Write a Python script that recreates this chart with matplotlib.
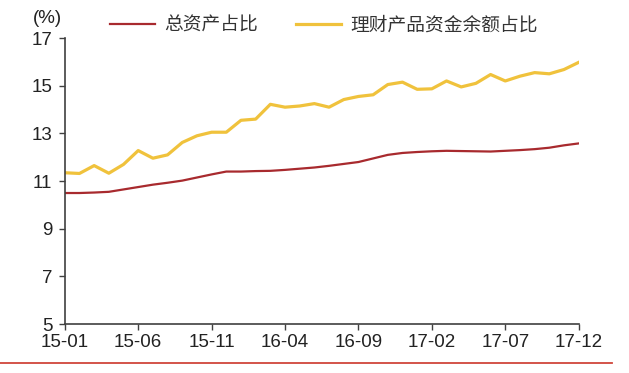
import matplotlib
matplotlib.use("Agg")
import matplotlib.pyplot as plt
from matplotlib.lines import Line2D

plt.rcParams["font.family"] = ["Liberation Sans", "Noto Sans CJK SC", "DejaVu Sans"]

# monthly data, 2015-01 .. 2017-12
months = [f"{y:02d}-{m:02d}" for y in (15, 16, 17) for m in range(1, 13)]

total_assets = [10.50, 10.50, 10.52, 10.55, 10.65, 10.75, 10.85, 10.93, 11.02, 11.15, 11.28, 11.40,
                11.40, 11.42, 11.43, 11.47, 11.52, 11.57, 11.64, 11.72, 11.80, 11.95, 12.10, 12.18,
                12.22, 12.25, 12.27, 12.26, 12.25, 12.24, 12.27, 12.30, 12.34, 12.40, 12.50, 12.58]

wealth_mgmt = [11.35, 11.32, 11.65, 11.33, 11.70, 12.28, 11.96, 12.10, 12.62, 12.90, 13.05, 13.05,
               13.55, 13.60, 14.22, 14.10, 14.15, 14.25, 14.10, 14.42, 14.55, 14.62, 15.05, 15.15,
               14.85, 14.87, 15.20, 14.95, 15.10, 15.47, 15.20, 15.40, 15.55, 15.50, 15.68, 15.98]

tick_pos = list(range(0, 36, 5))
tick_labels = [months[i] for i in tick_pos]
y_ticks = [5, 7, 9, 11, 13, 15, 17]

fig = plt.figure(figsize=(6.29, 3.73), dpi=100)
ax = fig.add_axes([0.103, 0.131, 0.817, 0.767])

x = list(range(len(months)))
ax.plot(x, total_assets, color="#a82a2e", lw=1.6, label="总资产占比")
ax.plot(x, wealth_mgmt, color="#f0c23c", lw=2.3, label="理财产品资金余额占比")

ax.set_xlim(0, 35)
ax.set_ylim(5, 17)
ax.set_xticks(tick_pos)
ax.set_xticklabels(tick_labels)
ax.set_yticks(y_ticks)
ax.tick_params(axis="both", direction="out", length=4, width=1, color="#404040",
               labelsize=13.5, labelcolor="#222222")
ax.tick_params(axis="y", pad=5)
ax.tick_params(axis="x", pad=3)

for side in ("top", "right"):
    ax.spines[side].set_visible(False)
for side in ("left", "bottom"):
    ax.spines[side].set_color("#404040")
    ax.spines[side].set_linewidth(1.2)

fig.text(0.075, 0.95, "(%)", ha="center", va="center", fontsize=13.5, color="#222222")

fig.legend(loc="center", bbox_to_anchor=(0.515, 0.933), ncol=2, frameon=False,
           prop={"family": ["Noto Sans CJK SC", "DejaVu Sans"], "size": 13.5},
           handlelength=2.4, handletextpad=0.5, columnspacing=2.0, labelcolor="#333333")

fig.add_artist(Line2D([0.0, 0.973], [0.027, 0.027], transform=fig.transFigure,
                      color="#d0453a", lw=1.3))

fig.savefig("out.png", dpi=100)
